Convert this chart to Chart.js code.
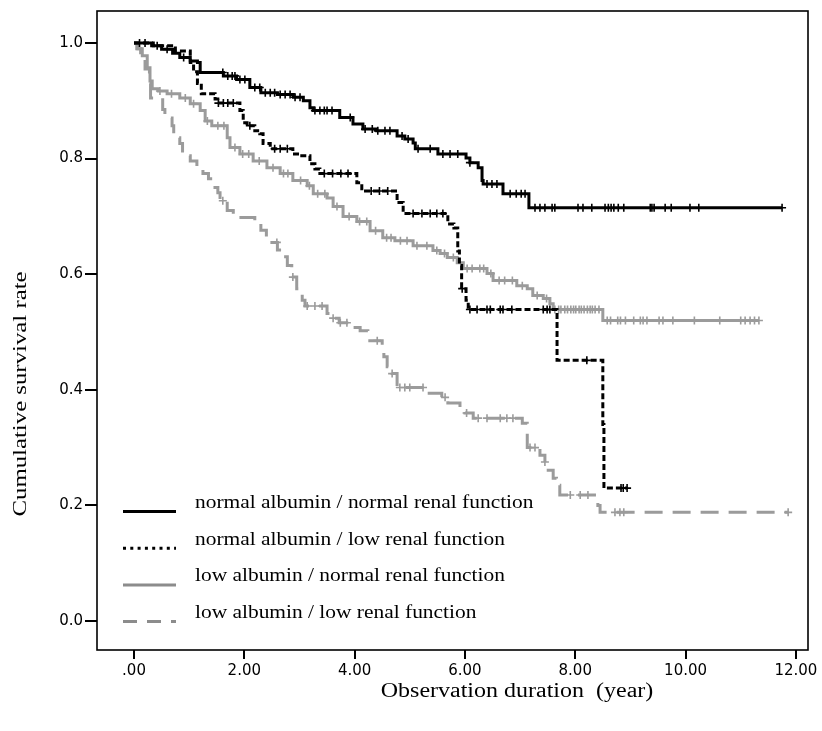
<!DOCTYPE html>
<html>
<head>
<meta charset="utf-8">
<title>Cumulative survival rate</title>
<script src="https://cdn.jsdelivr.net/npm/chart.js@4/dist/chart.umd.min.js"></script>
<style>
    html, body { margin: 0; padding: 0; background: #fff; }
    #chart-wrap { width: 822px; height: 731px; }
</style>
</head>
<body>
<div id="chart-wrap"><canvas id="survival-chart" width="822" height="731"></canvas></div>
<script>
/**
 * Kaplan-Meier curves: albumin x renal function groups
 */

// Axis ticks
const xTicks = [0, 2, 4, 6, 8, 10, 12];
const yTicks = [0, 0.2, 0.4, 0.6, 0.8, 1.0];

// Group labels
const groupLabels = [
    'normal albumin / normal renal function',
    'normal albumin / low renal function',
    'low albumin / normal renal function',
    'low albumin / low renal function'
];

// Step points [time, survival after the event]
const normNormSteps = [
    [0, 1.0], [0.32, 0.995], [0.5, 0.989], [0.7, 0.982], [0.83, 0.975], [1.02, 0.969],
    [1.15, 0.966], [1.2, 0.949], [1.62, 0.943], [1.86, 0.937], [2.1, 0.923], [2.3, 0.914],
    [2.6, 0.911], [2.89, 0.906], [3.07, 0.9], [3.19, 0.888], [3.25, 0.883], [3.73, 0.871],
    [3.97, 0.86], [4.15, 0.851], [4.4, 0.848], [4.77, 0.839], [4.91, 0.834], [5.06, 0.827],
    [5.1, 0.817], [5.51, 0.808], [6.02, 0.801], [6.09, 0.793], [6.24, 0.784], [6.31, 0.762],
    [6.33, 0.756], [6.69, 0.739], [7.16, 0.715], [11.75, 0.715]
];
const normLowSteps = [
    [0, 1.0], [0.35, 0.995], [0.75, 0.986], [1.02, 0.966], [1.08, 0.95], [1.15, 0.93],
    [1.22, 0.912], [1.47, 0.903], [1.52, 0.896], [1.92, 0.883], [1.98, 0.862], [2.05, 0.857],
    [2.19, 0.848], [2.28, 0.843], [2.34, 0.826], [2.47, 0.817], [2.88, 0.808], [3.0, 0.805],
    [3.19, 0.791], [3.28, 0.782], [3.37, 0.774], [4.04, 0.758], [4.13, 0.744], [4.77, 0.724],
    [4.88, 0.705], [5.69, 0.687], [5.8, 0.68], [5.87, 0.64], [5.9, 0.615], [5.94, 0.575],
    [6.02, 0.555], [6.06, 0.539], [7.67, 0.451], [8.5, 0.34], [8.52, 0.23], [8.94, 0.23]
];
const lowNormSteps = [
    [0, 1.0], [0.07, 0.99], [0.15, 0.978], [0.24, 0.957], [0.29, 0.934], [0.33, 0.921],
    [0.44, 0.917], [0.6, 0.912], [0.83, 0.905], [1.02, 0.895], [1.2, 0.883], [1.29, 0.865],
    [1.41, 0.857], [1.69, 0.836], [1.74, 0.819], [1.92, 0.808], [2.16, 0.796], [2.41, 0.784],
    [2.65, 0.774], [2.88, 0.762], [3.14, 0.753], [3.25, 0.739], [3.5, 0.732], [3.61, 0.717],
    [3.79, 0.7], [4.04, 0.691], [4.28, 0.675], [4.51, 0.663], [4.73, 0.658], [5.06, 0.649],
    [5.42, 0.641], [5.55, 0.636], [5.68, 0.629], [5.86, 0.62], [5.97, 0.61], [6.4, 0.601],
    [6.51, 0.589], [6.94, 0.58], [7.13, 0.575], [7.23, 0.563], [7.42, 0.558], [7.54, 0.549],
    [7.6, 0.539], [8.5, 0.52], [11.33, 0.52]
];
const lowLowSteps = [
    [0, 1.0], [0.05, 0.99], [0.12, 0.975], [0.2, 0.955], [0.28, 0.93], [0.3, 0.905],
    [0.52, 0.885], [0.56, 0.87], [0.69, 0.857], [0.72, 0.836], [0.83, 0.826], [0.88, 0.805],
    [1.02, 0.796], [1.14, 0.786], [1.25, 0.774], [1.35, 0.765], [1.43, 0.75], [1.52, 0.741],
    [1.56, 0.727], [1.69, 0.71], [1.8, 0.698], [2.19, 0.688], [2.3, 0.676], [2.4, 0.665],
    [2.5, 0.655], [2.6, 0.642], [2.68, 0.63], [2.78, 0.615], [2.86, 0.595], [2.95, 0.575],
    [3.05, 0.555], [3.1, 0.545], [3.5, 0.532], [3.6, 0.524], [3.72, 0.516], [3.97, 0.508],
    [4.1, 0.502], [4.24, 0.485], [4.5, 0.477], [4.53, 0.457], [4.59, 0.44], [4.68, 0.428],
    [4.77, 0.404], [5.28, 0.394], [5.58, 0.387], [5.69, 0.377], [5.91, 0.368], [6.0, 0.36],
    [6.15, 0.351], [7.04, 0.342], [7.13, 0.3], [7.36, 0.287], [7.45, 0.275], [7.51, 0.261],
    [7.6, 0.247], [7.66, 0.235], [7.72, 0.218], [8.41, 0.2], [8.45, 0.188], [11.86, 0.188]
];

// Censored observation times
const normNormCensored = [
    0.1, 0.2, 0.42, 0.6, 0.9, 1.61, 1.7, 1.78, 1.83, 1.92, 2.01, 2.19, 2.28, 2.38, 2.47, 2.55,
    2.65, 2.74, 2.83, 2.92, 3.01, 3.28, 3.37, 3.45, 3.5, 3.59, 3.92, 4.19, 4.32, 4.42, 4.55,
    4.64, 4.86, 4.97, 5.15, 5.37, 5.6, 5.73, 5.87, 6.09, 6.4, 6.49, 6.58, 6.82, 6.93, 7.02,
    7.09, 7.27, 7.36, 7.45, 7.58, 7.63, 8.05, 8.14, 8.3, 8.54, 8.6, 8.65, 8.7, 8.78, 8.88,
    9.36, 9.39, 9.43, 9.63, 9.74, 10.08, 10.24, 11.75
];
const normLowCensored = [
    1.53, 1.62, 1.7, 1.8, 2.1, 2.55, 2.65, 2.78, 3.45, 3.6, 3.75, 3.88, 4.3, 4.45, 4.6, 5.06,
    5.22, 5.37, 5.49, 5.6, 5.95, 6.09, 6.22, 6.4, 6.46, 6.64, 6.69, 6.85, 7.42, 7.49, 7.54,
    8.21, 8.83, 8.87, 8.94
];
const lowNormCensored = [
    0.47, 0.68, 0.93, 1.08, 1.33, 1.52, 1.63, 1.83, 1.97, 2.08, 2.27, 2.52, 2.71, 2.79, 3.02,
    3.18, 3.33, 3.46, 3.68, 3.9, 4.09, 4.22, 4.38, 4.58, 4.66, 4.83, 4.95, 5.13, 5.31, 5.49,
    5.63, 5.79, 6.04, 6.13, 6.27, 6.34, 6.47, 6.62, 6.72, 6.86, 7.04, 7.31, 7.48, 7.63, 7.7,
    7.74, 7.81, 7.86, 7.92, 7.97, 8.01, 8.07, 8.11, 8.16, 8.22, 8.27, 8.31, 8.36, 8.43, 8.58,
    8.64, 8.77, 8.82, 8.91, 9.06, 9.18, 9.23, 9.3, 9.52, 9.59, 9.77, 10.16, 10.62, 11.0,
    11.08, 11.17, 11.25, 11.33
];
const lowLowCensored = [
    1.61, 2.59, 2.88, 3.14, 3.28, 3.41, 3.61, 3.74, 3.86, 4.41, 4.68, 4.82, 4.91, 5.0, 5.24,
    5.64, 6.03, 6.24, 6.4, 6.64, 6.76, 6.87, 7.18, 7.27, 7.45, 7.91, 8.09, 8.23, 8.72, 8.81,
    8.88, 11.86
];

// Survival value at time t (step function lookup)
function survivalAt(steps, t) {
    let s = steps[0][1];
    for (const [time, surv] of steps) {
        if (time <= t) s = surv;
    }
    return s;
}

function toPoints(steps) {
    return steps.map(([x, y]) => ({ x, y }));
}

function censorPoints(steps, times) {
    return times.map(t => ({ x: t, y: survivalAt(steps, t) }));
}

const groups = [
    { steps: normNormSteps, censored: normNormCensored, color: '#000000', dash: [], legendColor: '#000000', legendDash: [] },
    { steps: normLowSteps, censored: normLowCensored, color: '#000000', dash: [6, 3], legendColor: '#000000', legendDash: [3, 4.3] },
    { steps: lowNormSteps, censored: lowNormCensored, color: '#9b9b9b', dash: [], legendColor: '#8c8c8c', legendDash: [] },
    { steps: lowLowSteps, censored: lowLowCensored, color: '#9b9b9b', dash: [18, 10], legendColor: '#8c8c8c', legendDash: [14, 10] }
];

const datasets = [];
groups.forEach((g, i) => {
    datasets.push({
        label: groupLabels[i],
        isCurve: true,
        legendColor: g.legendColor,
        legendDash: g.legendDash,
        data: toPoints(g.steps),
        showLine: true,
        stepped: 'before',
        borderColor: g.color,
        borderWidth: 3,
        borderDash: g.dash,
        pointRadius: 0,
        fill: false
    });
    datasets.push({
        label: groupLabels[i] + ' (censored)',
        data: censorPoints(g.steps, g.censored),
        showLine: false,
        pointStyle: 'cross',
        pointRadius: 4,
        pointBorderWidth: 1.6,
        borderColor: g.color,
        backgroundColor: g.color
    });
});

// Frame, inner legend and axis titles
const framePlugin = {
    id: 'frameAndTitles',
    afterDraw(chart) {
        const { ctx, chartArea: a } = chart;
        ctx.save();

        // Box round the plot
        ctx.strokeStyle = '#000';
        ctx.lineWidth = 1.6;
        ctx.setLineDash([]);
        ctx.strokeRect(a.left, a.top, a.right - a.left, a.bottom - a.top);

        // Legend inside the plot
        ctx.font = '18px "Liberation Serif", "Times New Roman", serif';
        ctx.fillStyle = '#000';
        ctx.textBaseline = 'alphabetic';
        ctx.textAlign = 'left';
        const curves = chart.data.datasets.filter(d => d.isCurve);
        curves.forEach((d, i) => {
            const base = a.top + 497 + i * 36.7;
            const lineY = base + 3.5;
            ctx.strokeStyle = d.legendColor;
            ctx.lineWidth = 3;
            ctx.setLineDash(d.legendDash);
            ctx.beginPath();
            ctx.moveTo(a.left + 26, lineY);
            ctx.lineTo(a.left + 79, lineY);
            ctx.stroke();
            ctx.save();
            ctx.translate(a.left + 98, base);
            ctx.scale(1.19, 1);
            ctx.fillText(d.label, 0, 0);
            ctx.restore();
        });
        ctx.setLineDash([]);

        // X axis title
        ctx.font = '20px "Liberation Serif", "Times New Roman", serif';
        ctx.textAlign = 'center';
        ctx.save();
        ctx.translate(517, 697);
        ctx.scale(1.2, 1);
        ctx.fillText('Observation duration  (year)', 0, 0);
        ctx.restore();

        // Y axis title
        ctx.font = '18.5px "Liberation Serif", "Times New Roman", serif';
        ctx.save();
        ctx.translate(26, 394);
        ctx.rotate(-Math.PI / 2);
        ctx.scale(1.34, 1);
        ctx.fillText('Cumulative survival rate', 0, 0);
        ctx.restore();

        ctx.restore();
    }
};

Chart.defaults.font.family = '"DejaVu Sans", sans-serif';
Chart.defaults.color = '#000';

const ctx = document.getElementById('survival-chart').getContext('2d');
const survivalChart = new Chart(ctx, {
    type: 'scatter',
    data: { datasets: datasets },
    options: {
        responsive: false,
        animation: false,
        events: [],
        layout: { padding: { top: 10, right: 14, left: 0, bottom: 0 } },
        plugins: {
            legend: { display: false },
            tooltip: { enabled: false }
        },
        scales: {
            x: {
                type: 'linear',
                min: -0.671,
                max: 12.22,
                afterBuildTicks: axis => { axis.ticks = xTicks.map(v => ({ value: v })); },
                afterFit: axis => { axis.height = 81; },
                ticks: {
                    autoSkip: false,
                    maxRotation: 0,
                    padding: 3,
                    font: { size: 15 },
                    callback: value => (value === 0 ? '.00' : value.toFixed(2))
                },
                grid: { drawOnChartArea: false, drawTicks: true, tickLength: 9, color: '#000', lineWidth: 2 },
                border: { display: false }
            },
            y: {
                type: 'linear',
                min: -0.0501,
                max: 1.0553,
                afterBuildTicks: axis => { axis.ticks = yTicks.map(v => ({ value: v })); },
                afterFit: axis => { axis.width = 97; },
                ticks: {
                    autoSkip: false,
                    padding: 2,
                    font: { size: 15 },
                    callback: value => value.toFixed(1)
                },
                grid: { drawOnChartArea: false, drawTicks: true, tickLength: 12, color: '#000', lineWidth: 2 },
                border: { display: false }
            }
        }
    },
    plugins: [framePlugin]
});
</script>
</body>
</html>
